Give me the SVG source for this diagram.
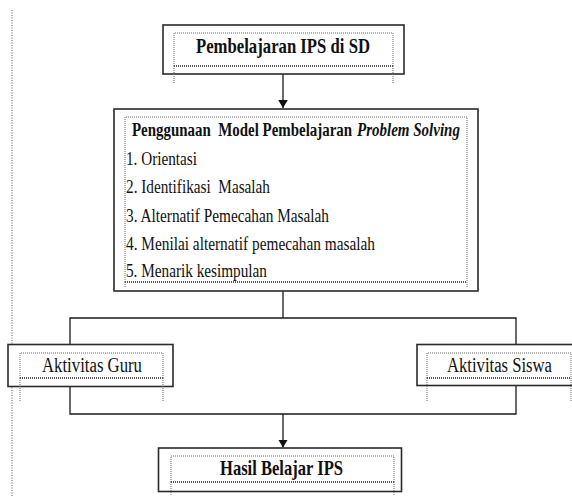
<svg xmlns="http://www.w3.org/2000/svg" width="572" height="496" viewBox="0 0 572 496">
  <style>
    .outer { fill: #ffffff; stroke: #2a2a2a; stroke-width: 1.6; }
    .inner { fill: none; stroke: #666666; stroke-width: 1; stroke-dasharray: 1 1; }
    .innerb { fill: none; stroke: #555555; stroke-width: 2; stroke-dasharray: 1 1; }
    .conn { fill: none; stroke: #1a1a1a; stroke-width: 1.3; }
    .guide { fill: none; stroke: #555555; stroke-width: 1; stroke-dasharray: 1 1.5; }
    .t { font-family: "Liberation Serif", "Times New Roman", serif; fill: #111111; }
    .b { font-weight: bold; }
  </style>
  <defs>
    <marker id="arrow" viewBox="0 0 10 12" refX="10" refY="6" markerWidth="8" markerHeight="10" markerUnits="userSpaceOnUse" orient="auto">
      <path d="M0,0 L10,6 L0,12 Z" fill="#111111"/>
    </marker>
  </defs>

  <line class="guide" x1="12" y1="10" x2="12" y2="496"/>

  <g id="connectors">
    <line class="conn" x1="283" y1="74" x2="283" y2="108" marker-end="url(#arrow)"/>
    <line class="conn" x1="283" y1="291" x2="283" y2="318"/>
    <polyline class="conn" points="70,345 70,318 516,318 516,345"/>
    <polyline class="conn" points="70,386 70,414 516,414 516,385"/>
    <line class="conn" x1="283" y1="414" x2="283" y2="447.5" marker-end="url(#arrow)"/>
  </g>

  <g id="node-pembelajaran">
    <rect class="outer" x="163" y="25" width="241" height="49"/>
    <path class="inner" d="M174,66 V33 H393 V66"/>
    <line class="innerb" x1="174" y1="66" x2="393" y2="66"/>
    <line class="inner" x1="174" y1="66" x2="174" y2="83"/>
    <line class="inner" x1="393" y1="66" x2="393" y2="83"/>
    <text class="t b" x="196" y="53" font-size="21" textLength="174" lengthAdjust="spacingAndGlyphs">Pembelajaran IPS di SD</text>
  </g>

  <g id="node-model">
    <rect class="outer" x="114" y="109" width="364" height="182"/>
    <path class="inner" d="M125,282 V117 H467 V282"/>
    <line class="innerb" x1="125" y1="282" x2="467" y2="282"/>
    <line class="inner" x1="125" y1="282" x2="125" y2="287"/>
    <line class="inner" x1="467" y1="282" x2="467" y2="287"/>
    <g transform="translate(132,136) scale(0.786,1)">
      <text class="t b" x="0" y="0" font-size="19" xml:space="preserve">Penggunaan  Model Pembelajaran</text>
    </g>
    <g transform="translate(357,136) scale(0.79,1)">
      <text class="t b" x="0" y="0" font-size="19" font-style="italic">Problem Solving</text>
    </g>
    <text class="t" x="126" y="165" font-size="19" textLength="71" lengthAdjust="spacingAndGlyphs">1. Orientasi</text>
    <text class="t" x="126" y="193" font-size="19" textLength="144" lengthAdjust="spacingAndGlyphs" xml:space="preserve">2. Identifikasi  Masalah</text>
    <text class="t" x="126" y="221.5" font-size="19" textLength="203" lengthAdjust="spacingAndGlyphs">3. Alternatif Pemecahan Masalah</text>
    <text class="t" x="126" y="250" font-size="19" textLength="249" lengthAdjust="spacingAndGlyphs">4. Menilai alternatif pemecahan masalah</text>
    <text class="t" x="126" y="277" font-size="19" textLength="141" lengthAdjust="spacingAndGlyphs">5. Menarik kesimpulan</text>
  </g>

  <g id="node-guru">
    <rect class="outer" x="8" y="344.5" width="165" height="42"/>
    <path class="inner" d="M20,378 V353 H163 V378"/>
    <line class="innerb" x1="20" y1="378" x2="163" y2="378"/>
    <line class="inner" x1="20" y1="378" x2="20" y2="402"/>
    <line class="inner" x1="163" y1="378" x2="163" y2="402"/>
    <text class="t" x="42" y="372" font-size="20" textLength="100" lengthAdjust="spacingAndGlyphs">Aktivitas Guru</text>
  </g>

  <g id="node-siswa">
    <rect class="outer" x="417" y="344.5" width="165" height="41"/>
    <path class="inner" d="M427,378 V353 H571 V378"/>
    <line class="innerb" x1="427" y1="378" x2="571" y2="378"/>
    <line class="inner" x1="427" y1="378" x2="427" y2="402"/>
    <line class="inner" x1="571" y1="378" x2="571" y2="402"/>
    <text class="t" x="447" y="372" font-size="20" textLength="105" lengthAdjust="spacingAndGlyphs">Aktivitas Siswa</text>
  </g>

  <g id="node-hasil">
    <rect class="outer" x="158.5" y="448" width="243" height="43.5"/>
    <path class="inner" d="M171,482 V456 H394 V482"/>
    <line class="innerb" x1="171" y1="482" x2="394" y2="482"/>
    <line class="inner" x1="171" y1="482" x2="171" y2="496"/>
    <line class="inner" x1="394" y1="482" x2="394" y2="496"/>
    <text class="t b" x="220" y="475" font-size="21" textLength="123" lengthAdjust="spacingAndGlyphs">Hasil Belajar IPS</text>
  </g>
</svg>
